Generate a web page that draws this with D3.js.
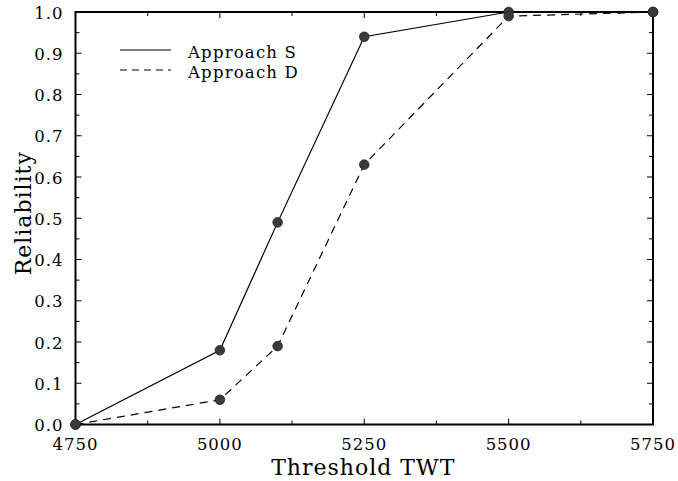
<!DOCTYPE html>
<html><head><meta charset="utf-8">
<script src="https://cdn.jsdelivr.net/npm/d3@7"></script>
<style>body{margin:0;background:#fff}svg{display:block}text{font-family:"DejaVu Serif",serif;fill:#000}</style>
</head><body>
<script>
const thresholds = [4750, 5000, 5100, 5250, 5500, 5750];
const approachS = [0, 0.18, 0.49, 0.94, 1.0, 1.0];
const approachD = [0, 0.06, 0.19, 0.63, 0.99, 1.0];
const xTicks = [4750, 5000, 5250, 5500, 5750];
const yTicks = [0, 0.1, 0.2, 0.3, 0.4, 0.5, 0.6, 0.7, 0.8, 0.9, 1.0];
const seriesNames = ["Approach S", "Approach D"];

const W = 678, H = 481;
const m = {l: 75.5, r: 25, t: 12, b: 56.5};
const svg = d3.select("body").append("svg").attr("width", W).attr("height", H);
const x = d3.scaleLinear().domain([4750, 5750]).range([m.l, W - m.r]);
const y = d3.scaleLinear().domain([0, 1]).range([H - m.b, m.t]);

const xMinor = d3.range(4750, 5751, 125);
const yMinor = d3.range(0, 1.0001, 0.05);

function tickLen(v, majors, eps){ return majors.some(t => Math.abs(t - v) < eps) ? 6 : 4; }

const g = svg.append("g").attr("stroke", "#000").attr("stroke-width", 1);
xMinor.forEach(v => {
  const L = tickLen(v, xTicks, 1);
  g.append("line").attr("x1", x(v)).attr("x2", x(v)).attr("y1", y(0)).attr("y2", y(0) - L);
  g.append("line").attr("x1", x(v)).attr("x2", x(v)).attr("y1", y(1)).attr("y2", y(1) + L);
});
yMinor.forEach(v => {
  const L = tickLen(v, yTicks, 1e-6);
  g.append("line").attr("y1", y(v)).attr("y2", y(v)).attr("x1", x(4750)).attr("x2", x(4750) + L);
  g.append("line").attr("y1", y(v)).attr("y2", y(v)).attr("x1", x(5750)).attr("x2", x(5750) - L);
});

svg.append("rect").attr("x", x(4750)).attr("y", y(1)).attr("width", x(5750) - x(4750)).attr("height", y(0) - y(1))
  .attr("fill", "none").attr("stroke", "#000").attr("stroke-width", 2);

svg.append("g").selectAll("text").data(xTicks).join("text")
  .attr("x", d => x(d)).attr("y", y(0) + 25.5).attr("text-anchor", "middle").attr("font-size", 16.5)
  .attr("letter-spacing", 1).text(d => d);
svg.append("g").selectAll("text").data(yTicks).join("text")
  .attr("x", x(4750) - 12).attr("y", d => y(d) + 6.5).attr("text-anchor", "end").attr("font-size", 16.5)
  .attr("letter-spacing", 1).text(d => d.toFixed(1));

svg.append("text").attr("x", (x(4750) + x(5750)) / 2 - 1).attr("y", 475).attr("text-anchor", "middle")
  .attr("font-size", 22).attr("letter-spacing", 1).text("Threshold TWT");
svg.append("text").attr("transform", `translate(31,${(y(0) + y(1)) / 2 - 5}) rotate(-90)`).attr("text-anchor", "middle")
  .attr("font-size", 22).attr("letter-spacing", 1).text("Reliability");

const line = d3.line().x(d => x(d[0])).y(d => y(d[1]));
const sData = thresholds.map((t, i) => [t, approachS[i]]);
const dData = thresholds.map((t, i) => [t, approachD[i]]);
svg.append("path").attr("d", line(sData)).attr("fill", "none").attr("stroke", "#000").attr("stroke-width", 1.2);
svg.append("path").attr("d", line(dData)).attr("fill", "none").attr("stroke", "#000").attr("stroke-width", 1.2).attr("stroke-dasharray", "8,6");

[sData, dData].forEach(data => {
  svg.append("g").selectAll("circle").data(data).join("circle")
    .attr("cx", d => x(d[0])).attr("cy", d => y(d[1])).attr("r", 4.8)
    .attr("fill", "#3a3a3a").attr("stroke", "#222").attr("stroke-width", 0.8);
});

const leg = svg.append("g");
[0, 1].forEach(i => {
  const ly = 50 + i * 20;
  leg.append("line").attr("x1", 120).attr("x2", 171).attr("y1", ly).attr("y2", ly)
    .attr("stroke", "#000").attr("stroke-width", 1.2).attr("stroke-dasharray", i ? "7,5" : null);
  leg.append("text").attr("x", 188).attr("y", ly + 7.5).attr("font-size", 16.5).attr("letter-spacing", 1.2).text(seriesNames[i]);
});
</script>
</body></html>
